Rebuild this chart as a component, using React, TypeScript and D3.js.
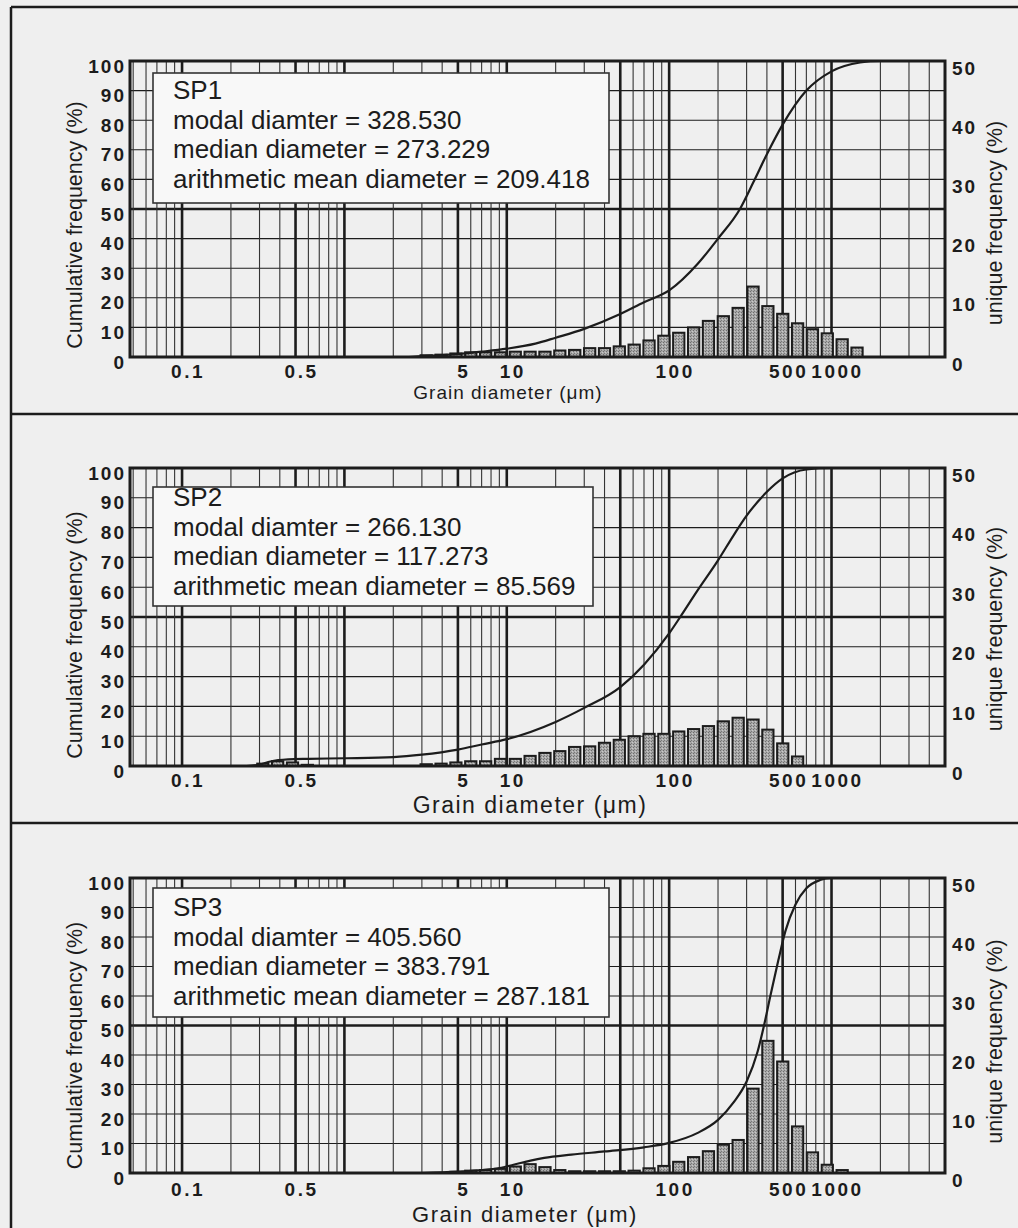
import React from 'react';
import * as d3 from 'd3';

// ---- DATA ----
// grain-size class centres (µm)
const binCenters = [
  0.255, 0.314, 0.388, 0.479, 0.591, 0.73, 0.901, 1.11, 1.37, 1.7, 2.09, 2.58,
  3.19, 3.94, 4.86, 6.0, 7.41, 9.15, 11.3, 13.9, 17.2, 21.2, 26.2, 32.4,
  40.0, 49.3, 60.9, 75.2, 92.8, 114.6, 141.5, 174.6, 215.6, 266.13, 328.53, 405.56,
  500.7, 618.2, 763.2, 942.1, 1163, 1436, 1773, 2188,
];

// unique frequency (%) per class
const sp1Freq = [
  0, 0, 0, 0, 0, 0, 0, 0, 0, 0, 0, 0,
  0.3, 0.4, 0.6, 0.8, 0.8, 0.8, 0.9, 0.9, 0.9, 1.1, 1.2, 1.5,
  1.5, 1.8, 2.1, 2.8, 3.6, 4.1, 5.0, 6.1, 6.9, 8.3, 11.9, 8.6,
  7.3, 5.7, 4.7, 4.0, 3.0, 1.6, 0, 0,
];
const sp2Freq = [
  0, 0.4, 0.8, 0.6, 0.2, 0, 0, 0, 0, 0, 0, 0,
  0.3, 0.4, 0.6, 0.8, 0.8, 1.2, 1.2, 1.7, 2.2, 2.5, 3.2, 3.3,
  3.9, 4.4, 5.0, 5.4, 5.4, 5.8, 6.2, 6.7, 7.5, 8.1, 7.8, 6.1,
  3.8, 1.6, 0, 0, 0, 0, 0, 0,
];
const sp3Freq = [
  0, 0, 0, 0, 0, 0, 0, 0, 0, 0, 0, 0,
  0, 0, 0.2, 0.4, 0.5, 0.7, 1.1, 1.5, 1.0, 0.5, 0.3, 0.3,
  0.3, 0.3, 0.4, 0.8, 1.2, 1.9, 2.7, 3.7, 4.8, 5.6, 14.3, 22.4,
  18.9, 7.9, 3.5, 1.4, 0.5, 0, 0, 0,
];

// cumulative frequency curves (diameter µm, %)
const sp1CumDiameter = [2.5, 3, 5, 7, 10, 15, 20, 30, 50, 70, 100, 150, 200, 273, 330, 400, 500, 700, 1000, 1500, 2000, 5000];
const sp1CumPercent = [0, 0.3, 1.0, 1.8, 2.8, 4.5, 6.5, 9.5, 14.5, 18.5, 22.5, 31.5, 40, 50, 59, 68.5, 78.5, 90, 96.5, 99.5, 100, 100];
const sp2CumDiameter = [0.25, 0.3, 0.35, 0.45, 0.6, 1, 2, 3, 5, 7, 10, 20, 30, 50, 70, 100, 117, 150, 200, 250, 300, 400, 500, 700, 1000, 5000];
const sp2CumPercent = [0, 0.5, 1.5, 2.2, 2.4, 2.6, 3.0, 3.8, 5.5, 7.2, 9.0, 14.8, 19.5, 26.5, 34, 44.5, 50, 59, 69, 77.5, 84, 92, 96.5, 99.5, 100, 100];
const sp3CumDiameter = [3, 5, 7, 9, 11, 14, 17, 25, 40, 70, 100, 150, 200, 250, 300, 350, 384, 420, 470, 520, 600, 700, 850, 1000, 5000];
const sp3CumPercent = [0, 0.5, 1.0, 1.7, 2.8, 4.2, 5.1, 6.2, 7.3, 8.7, 10.2, 13.6, 18, 24, 31, 41, 50, 60, 72, 82, 91, 96.5, 99.3, 100, 100];

const sampleNames = ['SP1', 'SP2', 'SP3'];
const modalValues = ['328.530', '266.130', '405.560'];
const medianValues = ['273.229', '117.273', '383.791'];
const meanValues = ['209.418', '85.569', '287.181'];

const xTickValues = [0.1, 0.5, 5, 10, 100, 500, 1000];
const xTickLabels = ['0.1', '0.5', '5', '10', '100', '500', '1000'];
const leftTicks = [0, 10, 20, 30, 40, 50, 60, 70, 80, 90, 100];
const rightTicks = [0, 10, 20, 30, 40, 50];
const gridMajor = [0.1, 0.5, 1, 5, 10, 50, 100, 500, 1000];
const gridMinor = [
  0.05, 0.06, 0.07, 0.08, 0.09, 0.2, 0.3, 0.4, 0.6, 0.7, 0.8, 0.9,
  2, 3, 4, 6, 7, 8, 9, 20, 30, 40, 60, 70, 80, 90,
  200, 300, 400, 600, 700, 800, 900, 2000, 3000, 4000,
];

// ---- LAYOUT ----
const W = 1018;
const H = 1228;
const PLOT_LEFT = 130;
const PLOT_RIGHT = 945;
const layouts = [
  { top: 61, bottom: 357, boxDy: 12, boxH: 130, boxW: 456, tickDy: 21, titleDy: 42, titleX: 508, titleSize: 19, leftTitleDy: 16, rightTitleDy: 14 },
  { top: 468, bottom: 766, boxDy: 19, boxH: 119, boxW: 440, tickDy: 21, titleDy: 47, titleX: 530, titleSize: 23, leftTitleDy: 18, rightTitleDy: 12 },
  { top: 878, bottom: 1173, boxDy: 10, boxH: 129, boxW: 456, tickDy: 23, titleDy: 49, titleX: 525, titleSize: 22, leftTitleDy: 20, rightTitleDy: 16 },
];

const INK = '#1c1c1c';
const FONT = '"Liberation Sans", Arial, Helvetica, sans-serif';

function Panel({ idx, x }: { idx: number; x: d3.ScaleLogarithmic<number, number> }) {
  const L = layouts[idx];
  const freq = [sp1Freq, sp2Freq, sp3Freq][idx];
  const cumD = [sp1CumDiameter, sp2CumDiameter, sp3CumDiameter][idx];
  const cumP = [sp1CumPercent, sp2CumPercent, sp3CumPercent][idx];
  const yCum = d3.scaleLinear().domain([0, 100]).range([L.bottom, L.top]);
  const yUni = d3.scaleLinear().domain([0, 50]).range([L.bottom, L.top]);

  const line = d3
    .line<[number, number]>()
    .x((d) => x(d[0]))
    .y((d) => yCum(d[1]))
    .curve(d3.curveMonotoneX);
  const cumPts: [number, number][] = cumD.map((d, i) => [d, cumP[i]]);

  const edge = (i: number) => {
    const lo = i > 0 ? Math.sqrt(binCenters[i] * binCenters[i - 1]) : binCenters[i] / Math.sqrt(binCenters[i + 1] / binCenters[i]);
    const hi = i < binCenters.length - 1 ? Math.sqrt(binCenters[i] * binCenters[i + 1]) : binCenters[i] * Math.sqrt(binCenters[i] / binCenters[i - 1]);
    return [x(lo), x(hi)];
  };

  const midY = (L.top + L.bottom) / 2;
  const boxY = L.top + L.boxDy;
  const textYs = [38, 67.5, 97, 126.5].map((d) => L.top + d);
  const legendLines = [
    sampleNames[idx],
    `modal diamter = ${modalValues[idx]}`,
    `median diameter = ${medianValues[idx]}`,
    `arithmetic mean diameter = ${meanValues[idx]}`,
  ];

  return (
    <g>
      {/* horizontal grid */}
      {leftTicks.map((t) => (
        <line key={'h' + t} x1={PLOT_LEFT} x2={PLOT_RIGHT} y1={yCum(t)} y2={yCum(t)} stroke={INK} strokeWidth={t === 50 ? 2.6 : 1.1} />
      ))}
      {/* vertical grid */}
      {gridMinor.map((g) => (
        <line key={'vm' + g} x1={x(g)} x2={x(g)} y1={L.top} y2={L.bottom} stroke="#333" strokeWidth={1.1} />
      ))}
      {gridMajor.map((g) => (
        <line key={'vM' + g} x1={x(g)} x2={x(g)} y1={L.top} y2={L.bottom} stroke={INK} strokeWidth={2.6} />
      ))}
      {/* legend box */}
      <rect x={153} y={boxY} width={L.boxW} height={L.boxH} fill="#f8f8f8" stroke="#333" strokeWidth={1.6} />
      {legendLines.map((t, i) => (
        <text key={'lg' + i} x={173} y={textYs[i]} fontFamily={FONT} fontSize={26} fill={INK}>
          {t}
        </text>
      ))}
      {/* bars */}
      {freq.map((f, i) => {
        if (!f) return null;
        const [a, b] = edge(i);
        const pad = 1.8;
        return (
          <rect
            key={'b' + i}
            x={a + pad}
            y={yUni(f)}
            width={b - a - 2 * pad}
            height={L.bottom - yUni(f)}
            fill="url(#stipple)"
            stroke={INK}
            strokeWidth={2}
          />
        );
      })}
      {/* cumulative curve */}
      <path d={line(cumPts) || ''} fill="none" stroke={INK} strokeWidth={2.2} />
      {/* plot frame */}
      <rect x={PLOT_LEFT} y={L.top} width={PLOT_RIGHT - PLOT_LEFT} height={L.bottom - L.top} fill="none" stroke={INK} strokeWidth={3} />
      {/* left ticks */}
      {leftTicks.map((t) => (
        <text key={'lt' + t} x={126} y={yCum(t) + 5} textAnchor="end" dominantBaseline="central" fontFamily={FONT} fontWeight="bold" fontSize={19} letterSpacing={2} fill={INK}>
          {t}
        </text>
      ))}
      {/* right ticks */}
      {rightTicks.map((t) => (
        <text key={'rt' + t} x={952} y={yUni(t) + 7} textAnchor="start" dominantBaseline="central" fontFamily={FONT} fontWeight="bold" fontSize={19} letterSpacing={2} fill={INK}>
          {t}
        </text>
      ))}
      {/* x ticks */}
      {xTickValues.map((v, i) => (
        <text key={'xt' + v} x={x(v) + 6} y={L.bottom + L.tickDy} textAnchor="middle" fontFamily={FONT} fontWeight="bold" fontSize={19} letterSpacing={2.5} fill={INK}>
          {xTickLabels[i]}
        </text>
      ))}
      {/* axis titles */}
      <text x={L.titleX} y={L.bottom + L.titleDy} textAnchor="middle" fontFamily={FONT} fontSize={L.titleSize} letterSpacing={L.titleSize > 20 ? 1.5 : 1} fill={INK}>
        Grain diameter (μm)
      </text>
      <text transform={`translate(75,${midY + L.leftTitleDy}) rotate(-90)`} textAnchor="middle" dominantBaseline="central" fontFamily={FONT} fontSize={21.5} fill={INK}>
        Cumulative frequency (%)
      </text>
      <text transform={`translate(995,${midY + L.rightTitleDy}) rotate(-90)`} textAnchor="middle" dominantBaseline="central" fontFamily={FONT} fontSize={21.5} fill={INK}>
        unique frequency (%)
      </text>
    </g>
  );
}

export default function App() {
  const x = d3.scaleLog().domain([0.0478, 5000]).range([PLOT_LEFT, PLOT_RIGHT]);
  return (
    <div style={{ position: 'absolute', left: 0, top: 0 }}>
      <svg width={W} height={H} viewBox={`0 0 ${W} ${H}`} style={{ display: 'block' }}>
        <defs>
          <pattern id="stipple" width="3" height="3" patternUnits="userSpaceOnUse">
            <rect width="3" height="3" fill="#a8a8a8" />
            <rect x="0" y="0" width="1" height="1" fill="#6e6e6e" />
            <rect x="2" y="1" width="1" height="1" fill="#c8c8c8" />
            <rect x="1" y="2" width="1" height="1" fill="#7a7a7a" />
          </pattern>
        </defs>
        <rect x={0} y={0} width={W} height={H} fill="#efefef" />
        {/* outer panel frames */}
        <line x1={11} x2={W} y1={7} y2={7} stroke={INK} strokeWidth={2.5} />
        <line x1={11} x2={W} y1={414} y2={414} stroke={INK} strokeWidth={2.5} />
        <line x1={11} x2={W} y1={823} y2={823} stroke={INK} strokeWidth={2.5} />
        <line x1={11} x2={11} y1={7} y2={H} stroke={INK} strokeWidth={2.5} />
        {[0, 1, 2].map((i) => (
          <Panel key={i} idx={i} x={x} />
        ))}
      </svg>
    </div>
  );
}
